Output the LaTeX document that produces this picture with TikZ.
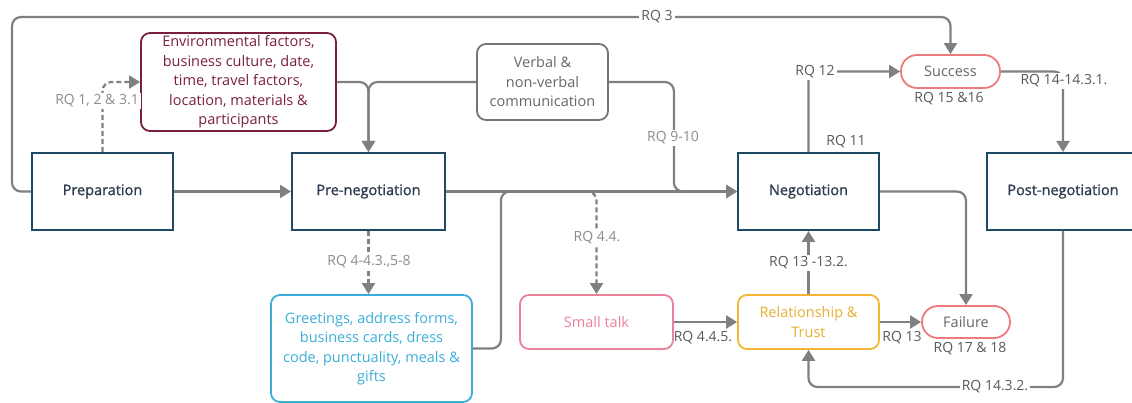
\documentclass[tikz,border=0pt]{standalone}
\usepackage{fontspec}
\setmainfont{Open Sans}
\newfontfamily\semib{Open Sans}[FakeBold=1.2]
\usetikzlibrary{arrows.meta,calc}
\definecolor{phase}{HTML}{1F4A66}
\definecolor{ptext}{HTML}{2E3D4F}
\definecolor{envc}{HTML}{7A1F3D}
\definecolor{lnc}{HTML}{808080}
\definecolor{lbl}{HTML}{595959}
\definecolor{lbll}{HTML}{8C8C8C}
\definecolor{greet}{HTML}{3AAED8}
\definecolor{smallc}{HTML}{E8819A}
\definecolor{relc}{HTML}{F2B632}
\definecolor{relt}{HTML}{E8AE2E}
\definecolor{succ}{HTML}{EE7B7B}
\definecolor{grayt}{HTML}{666666}
\begin{document}
\begin{tikzpicture}[x=1pt,y=-1pt,
  font=\fontsize{14.5}{19.5}\selectfont,
  phasebox/.style={draw=phase, line width=2pt, minimum width=141pt, minimum height=77pt, text=ptext, inner sep=0pt, font=\fontsize{14.5}{19.5}\selectfont\semib},
  infobox/.style={draw=#1, line width=1.8pt, rounded corners=9pt, align=center, inner sep=0pt},
  pill/.style={draw=succ, line width=1.8pt, rounded corners=16pt, text=grayt, inner sep=0pt},
  conn/.style={draw=lnc, line width=2.2pt, rounded corners=9pt},
  arr/.style={-{Triangle[length=11pt,width=13pt]}},
  dsh/.style={dashed, dash pattern=on 5pt off 3pt},
  lab/.style={font=\fontsize{14}{16}\selectfont, text=lbl, fill=white, inner sep=2pt},
  labl/.style={font=\fontsize{14}{16}\selectfont, text=lbll, fill=white, inner sep=2pt}
]
\useasboundingbox (0,0) rectangle (1132,403);

% phase boxes
\node[phasebox] (prep) at (102.5,191.5) {Preparation};
\node[phasebox, minimum width=153pt] (pre) at (368.5,191.5) {Pre-negotiation};
\node[phasebox] (neg) at (808.5,191.5) {Negotiation};
\node[phasebox, minimum width=152pt] (post) at (1063,191.5) {Post-negotiation};

% info boxes
\node[infobox=envc, text=envc, minimum width=195pt, minimum height=98pt] (env) at (238.5,82)
  {Environmental factors,\\business culture, date,\\time, travel factors,\\location, materials \&\\participants};
\node[infobox=grayt!90, text=grayt, minimum width=131pt, minimum height=76pt] (verb) at (542.5,82)
  {Verbal \&\\non-verbal\\communication};
\node[infobox=greet, text=greet, minimum width=201pt, minimum height=107pt] (greet) at (371.5,348.5)
  {Greetings, address forms,\\business cards, dress\\code, punctuality, meals \&\\gifts};
\node[infobox=smallc, text=smallc, minimum width=153pt, minimum height=54pt] (small) at (596.5,322) {Small talk};
\node[infobox=relc, text=relt, minimum width=141pt, minimum height=54pt] (rel) at (808.5,322) {Relationship \&\\Trust};
\node[pill, minimum width=99pt, minimum height=33pt] (succ) at (950.5,71.5) {Success};
\node[pill, minimum width=88pt, minimum height=32pt] (fail) at (966,322) {Failure};

% helper coordinates
\coordinate (topc) at (12,17);
\coordinate (botc) at (808.5,387);

% connectors
\draw[conn, arr] (prep.west) -| (topc) -| (succ.north);
\draw[conn, arr] (prep.east) -- (pre.west);
\draw[conn, arr, dsh] (prep.north) |- (env.west);
\draw[conn, arr] (env.east) -| (pre.north);
\draw[conn, arr] (verb.west) -| (pre.north);
\draw[conn, arr] (verb.east) -- ++(65,0) |- (neg.west);
\draw[conn, arr] (pre.east) -- (neg.west);
\draw[conn, arr] (greet.east) -- ++(28,0) |- (neg.west);
\draw[conn, arr, dsh] ($(small.north |- neg.west)+(-12,0)$) -| (small.north);
\draw[conn, arr, dsh] (pre.south) -- (pre.south |- greet.north);
\draw[conn, arr] (small.east) -- (rel.west);
\draw[conn, arr] (rel.north) -- (neg.south);
\draw[conn, arr] (rel.east) -- (fail.west);
\draw[conn, arr] (neg.east) -| (fail.north);
\draw[conn, arr] (neg.north) |- (succ.west);
\draw[conn, arr] (succ.east) -| (post.north);
\draw[conn, arr] (post.south) |- (botc) -- (rel.south);

% labels
\node[lab] (l3) at (657,17) {RQ 3};
\node[labl] (l1) at (97,101) {RQ 1, 2 \& 3.1};
\node[labl] (l910) at (673,138) {RQ 9-10};
\node[labl] (l48) at (369,262) {RQ 4-4.3.,5-8};
\node[labl] (l44) at (597,238) {RQ 4.4.};
\node[lab] (l12) at (815,72) {RQ 12};
\node[lab, fill=none] (l11) at (846,142) {RQ 11};
\node[lab, fill=none] (l1516) at (949,99) {RQ 15 \&16};
\node[lab] (l14) at (1064,81) {RQ 14-14.3.1.};
\node[lab] (l13a) at (808.5,263) {RQ 13 -13.2.};
\node[lab, fill=none] (l445) at (703,338) {RQ 4.4.5.};
\node[lab, fill=none] (l13) at (902,338) {RQ 13};
\node[lab, fill=none] (l1718) at (970,349) {RQ 17 \& 18};
\node[lab] (l1432) at (995,387) {RQ 14.3.2.};
\end{tikzpicture}
\end{document}
